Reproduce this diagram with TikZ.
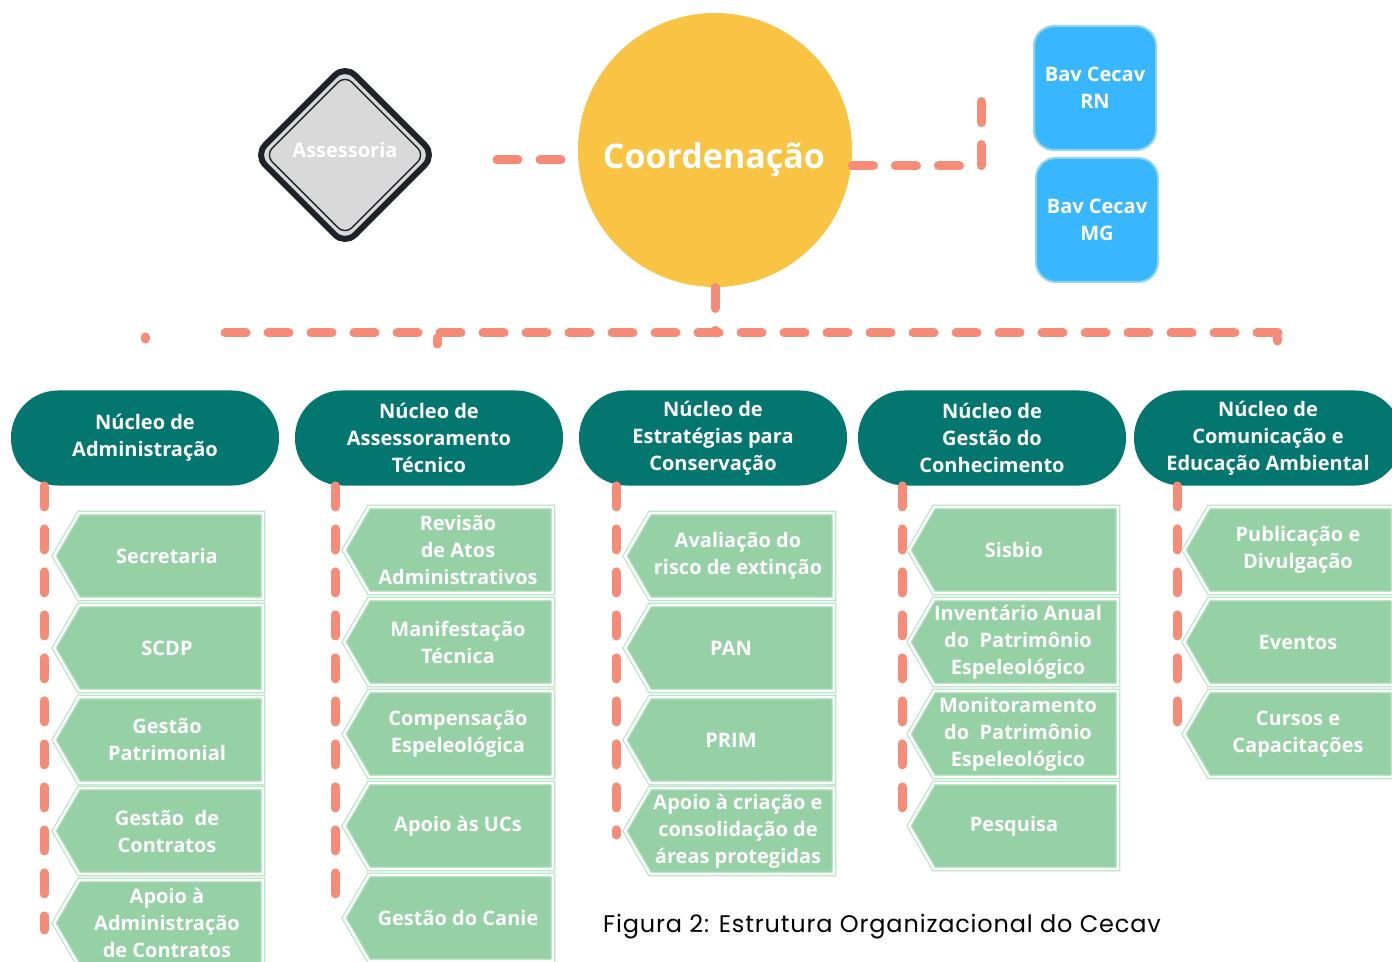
\documentclass[tikz,border=0pt]{standalone}
\usepackage{fontspec}
\setmainfont{Open Sans}
\newfontfamily\capfont[LetterSpace=3.5]{Poppins}
\usetikzlibrary{shapes.geometric,backgrounds}

\definecolor{salmon}{HTML}{F68C78}
\definecolor{tealdark}{HTML}{02766F}
\definecolor{leaf}{HTML}{95D1A5}
\definecolor{leafline}{HTML}{B5E3C4}
\definecolor{sun}{HTML}{F9C343}
\definecolor{sky}{HTML}{38B6FF}
\definecolor{skyline}{HTML}{8FD6E0}
\definecolor{stone}{HTML}{D9D9D9}
\definecolor{ink}{HTML}{1F2228}

\tikzset{
  link/.style={draw=salmon, line width=4.5pt, line cap=round, dash pattern=on 10.5pt off 11pt},
  nucleo/.style={rectangle, rounded corners=23.5pt, fill=tealdark, text=white,
    font=\bfseries\fontsize{10}{13.5}\selectfont, align=center,
    minimum width=134pt, minimum height=47.5pt, inner sep=0pt},
  gshape/.style={fill=leaf, draw=leafline, double=white, double distance=1.2pt, line width=0.6pt},
  gtext/.style={text=white, font=\bfseries\fontsize{10}{13.5}\selectfont, align=center, inner sep=0pt},
  bav/.style={rectangle, rounded corners=10pt, fill=sky, draw=skyline, line width=1pt,
    text=white, font=\bfseries\fontsize{10}{13.5}\selectfont, align=center,
    minimum width=61pt, minimum height=62pt, inner sep=0pt}
}

% name, tip x, centre y, text shift, text
\newcommand{\gbox}[5]{%
  \path[gshape] (#2,#3) -- ++(25,-43) -- ++(184,0) -- ++(0,86) -- ++(-184,0) -- cycle;
  \node[gtext] (#1) at ({#2+117+#4},#3) {#5};}

\begin{document}
\begin{tikzpicture}[x=0.5pt,y=-0.5pt]
  \useasboundingbox (0,0) rectangle (1392,962);

  % Coordenacao
  \node[circle, fill=sun, minimum size=137pt, inner sep=0pt] (coord) at (715,150) {};
  \node[text=white, font=\bfseries\fontsize{17}{20}\selectfont] (coord-txt) at (714,160) {Coordenação};

  % Assessoria
  \node[diamond, draw=ink, line width=3pt, fill=stone, rounded corners=7pt,
    minimum width=91pt, minimum height=91pt, inner sep=0pt] (assess) at (345,155) {};
  \node[diamond, draw=ink, line width=0.7pt, rounded corners=5pt,
    minimum width=80pt, minimum height=80pt, inner sep=0pt] (assess-in) at (345,155) {};
  \node[text=white, font=\bfseries\fontsize{10}{12}\selectfont] (assess-txt) at (345,150) {Assessoria};

  % Bav Cecav
  \node[bav] (rn) at (1095,88) {Bav Cecav\\RN};
  \node[bav] (mg) at (1097,220) {Bav Cecav\\MG};

  % links round the Coordenacao
  \coordinate (a-end) at (497,160);
  \draw[link] (a-end) -- (coord.west |- a-end);
  \coordinate (b-turn) at (981,166);
  \coordinate (b-top) at (981,89);
  \draw[link] (coord.east |- b-turn) -- (b-turn) -- (b-top);

  % bus
  \coordinate (bus-l) at (225,333);
  \coordinate (bus-r) at (1287,333);
  \draw[link] (coord.south) -- (coord.south |- bus-l);
  \draw[link] (bus-l) -- (bus-r);
  \draw[link, solid] (437,338) -- (437,344);
  \draw[link, solid] (1277,338) -- (1277,341);
  \draw[link, solid] (145,337) -- (145,339);

  % Nucleos
  \node[nucleo] (n1) at (145,438) {Núcleo de\\Administração};
  \node[nucleo] (n2) at (429,438) {Núcleo de\\Assessoramento\\Técnico};
  \node[nucleo] (n3) at (713,438) {Núcleo de\\Estratégias para\\Conservação};
  \node[nucleo] (n4) at (992,438) {Núcleo de\\Gestão do\\Conhecimento};
  \node[nucleo] (n5) at (1268,438) {Núcleo de\\Comunicação e\\Educação Ambiental};

  % lines down each column
  \foreach \n/\x/\y in {1/44/930, 2/335/912, 3/616/835, 4/902/828, 5/1177/733} {
    \coordinate (v\n) at (\x,\y);
    \draw[link] (n\n.south -| v\n) -- (v\n);
  }

  % Administracao
  \gbox{adm1}{54}{556}{-4}{Secretaria}
  \gbox{adm2}{54}{648}{-4}{SCDP}
  \gbox{adm3}{54}{740}{-4}{Gestão\\Patrimonial}
  \gbox{adm4}{54}{831}{-4}{Gestão\ \ de\\Contratos}
  \gbox{adm5}{54}{923}{-4}{Apoio à\\Administração\\de Contratos}

  % Assessoramento
  \gbox{ass1}{344}{550}{-3}{Revisão\\de Atos\\Administrativos}
  \gbox{ass2}{344}{642}{-3}{Manifestação\\Técnica}
  \gbox{ass3}{344}{734}{-3}{Compensação\\Espeleológica}
  \gbox{ass4}{344}{826}{-3}{Apoio às UCs}
  \gbox{ass5}{344}{918}{-3}{Gestão do Canie}

  % Estrategias
  \gbox{est1}{625}{556}{-4}{Avaliação do\\risco de extinção}
  \gbox{est2}{625}{648}{-11}{PAN}
  \gbox{est3}{625}{740}{-11}{PRIM}
  \gbox{est4}{625}{831}{-4}{Apoio à criação e\\consolidação de\\áreas protegidas}

  % Conhecimento
  \gbox{con1}{909}{550}{-12}{Sisbio}
  \gbox{con2}{909}{642}{-8}{Inventário Anual\\do\ \ Patrimônio\\Espeleológico}
  \gbox{con3}{909}{734}{-8}{Monitoramento\\do\ \ Patrimônio\\Espeleológico}
  \gbox{con4}{909}{826}{-12}{Pesquisa}

  % Comunicacao
  \gbox{com1}{1184}{550}{-3}{Publicação e\\Divulgação}
  \gbox{com2}{1184}{642}{-3}{Eventos}
  \gbox{com3}{1184}{734}{-3}{Cursos e\\Capacitações}

  \node[font=\capfont\fontsize{12}{14}\selectfont] (caption) at (882,927) {Figura 2: Estrutura Organizacional do Cecav};
\end{tikzpicture}
\end{document}
